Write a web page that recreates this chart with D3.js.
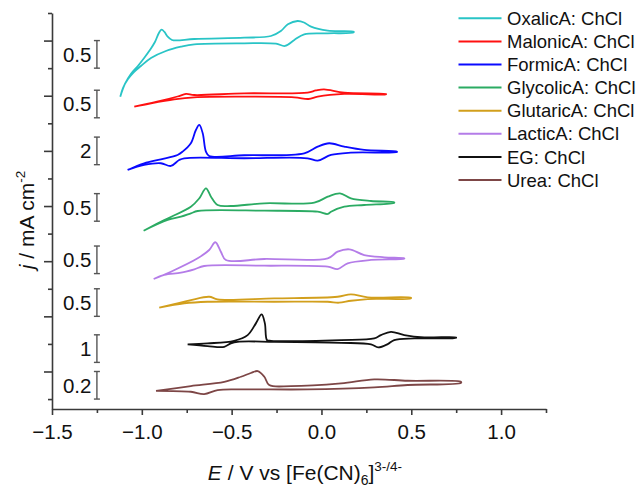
<!DOCTYPE html>
<html>
<head>
<meta charset="utf-8">
<script src="https://cdn.jsdelivr.net/npm/d3@7/dist/d3.min.js"></script>
<style>
  html, body { margin: 0; padding: 0; background: #fff; }
  svg { display: block; font-family: "Liberation Sans", Arial, sans-serif; }
</style>
</head>
<body>
<svg id="chart" width="638" height="488"></svg>
<script>
// Cyclic voltammograms of [Fe(CN)6]3-/4- in choline-chloride deep eutectic solvents.
// Each loop: [E (V), j (mA cm-2)], forward sweep then reverse sweep.
const oxalic = [
  [-1.120,-0.518],[-1.094,-0.287],[-1.061,-0.106],[-1.022,0.039],[-0.987,0.184],[-0.955,0.329],
  [-0.927,0.474],[-0.905,0.638],[-0.890,0.697],[-0.874,0.656],[-0.856,0.571],[-0.832,0.511],
  [-0.805,0.502],[-0.708,0.529],[-0.430,0.552],[-0.281,0.583],[-0.226,0.674],[-0.187,0.795],
  [-0.133,0.855],[-0.097,0.828],[-0.058,0.752],[0.035,0.679],[0.179,0.661],
  [0.179,0.647],[0.035,0.632],[-0.096,0.614],[-0.151,0.511],[-0.203,0.402],[-0.253,0.444],
  [-0.430,0.451],[-0.708,0.433],[-0.782,0.389],[-0.866,0.311],[-0.949,0.184],[-1.005,0.039],
  [-1.044,-0.070],[-1.077,-0.197],[-1.105,-0.360],[-1.120,-0.518]
];
const malonic = [
  [-1.042,0.201],[-0.921,0.287],[-0.801,0.386],[-0.754,0.432],[-0.708,0.413],[-0.430,0.444],
  [-0.077,0.455],[-0.031,0.495],[0.014,0.517],[0.127,0.455],[0.359,0.432],
  [0.359,0.426],[0.127,0.432],[-0.021,0.383],[-0.072,0.341],[-0.151,0.372],[-0.430,0.383],
  [-0.708,0.372],[-0.820,0.335],[-0.949,0.263],[-1.042,0.201]
];
const formic = [
  [-1.079,-0.384],[-0.987,0.102],[-0.894,0.392],[-0.801,0.704],[-0.773,0.943],[-0.727,1.552],
  [-0.699,2.517],[-0.680,2.880],[-0.661,2.278],[-0.643,0.943],[-0.625,0.631],[-0.430,0.682],
  [-0.096,0.827],[-0.021,1.306],[0.043,1.552],[0.127,1.306],[0.238,1.066],[0.420,0.943],
  [0.420,0.914],[0.164,0.870],[0.053,0.704],[-0.021,0.290],[-0.077,0.464],[-0.430,0.464],
  [-0.764,0.464],[-0.792,0.341],[-0.838,-0.094],[-0.894,0.102],[-0.987,-0.022],[-1.079,-0.384]
];
const glycolic = [
  [-0.990,-0.172],[-0.875,0.022],[-0.727,0.263],[-0.680,0.415],[-0.643,0.597],[-0.615,0.444],
  [-0.578,0.294],[-0.504,0.276],[-0.318,0.325],[-0.040,0.335],[0.035,0.444],[0.103,0.506],
  [0.164,0.415],[0.276,0.366],[0.405,0.343],
  [0.405,0.334],[0.238,0.294],[0.127,0.263],[0.053,0.172],[0.035,0.131],[-0.021,0.172],
  [-0.318,0.190],[-0.689,0.185],[-0.727,0.143],[-0.782,0.082],[-0.856,0.022],[-0.990,-0.172]
];
const lactic = [
  [-0.934,-0.098],[-0.838,0.034],[-0.689,0.277],[-0.625,0.428],[-0.591,0.568],[-0.560,0.397],
  [-0.532,0.247],[-0.318,0.265],[0.035,0.277],[0.090,0.397],[0.155,0.441],[0.238,0.337],
  [0.350,0.296],[0.461,0.277],
  [0.461,0.270],[0.276,0.247],[0.146,0.187],[0.090,0.083],[0.035,0.125],[-0.318,0.143],
  [-0.653,0.138],[-0.708,0.078],[-0.782,0.016],[-0.875,-0.025],[-0.934,-0.098]
];
const glutaric = [
  [-0.903,0.156],[-0.727,0.296],[-0.625,0.355],[-0.578,0.308],[-0.263,0.326],[0.090,0.355],
  [0.164,0.399],[0.257,0.345],[0.498,0.337],
  [0.498,0.326],[0.257,0.314],[0.164,0.283],[0.097,0.247],[0.035,0.265],[-0.263,0.265],
  [-0.634,0.265],[-0.764,0.236],[-0.903,0.156]
];
const eg = [
  [-0.745,0.653],[-0.634,0.689],[-0.486,0.783],[-0.411,0.990],[-0.365,1.415],[-0.333,1.741],
  [-0.315,1.415],[-0.303,0.809],[-0.281,0.783],[0.109,0.809],[0.294,0.870],[0.331,0.990],
  [0.387,1.110],[0.461,0.990],[0.572,0.907],[0.749,0.907],
  [0.749,0.889],[0.517,0.870],[0.405,0.809],[0.369,0.664],[0.316,0.544],[0.276,0.653],
  [0.109,0.711],[-0.263,0.747],[-0.467,0.747],[-0.504,0.689],[-0.541,0.566],[-0.634,0.591],
  [-0.745,0.653]
];
const urea = [
  [-0.921,0.060],[-0.727,0.094],[-0.541,0.125],[-0.448,0.162],[-0.393,0.189],[-0.355,0.203],
  [-0.318,0.162],[-0.291,0.102],[-0.170,0.094],[0.109,0.114],[0.294,0.143],[0.480,0.133],
  [0.777,0.125],
  [0.777,0.118],[0.480,0.102],[0.294,0.085],[-0.077,0.070],[-0.448,0.070],[-0.578,0.065],
  [-0.653,0.036],[-0.727,0.053],[-0.921,0.060]
];

const seriesNames = ["OxalicA: ChCl","MalonicA: ChCl","FormicA: ChCl","GlycolicA: ChCl",
                     "GlutaricA: ChCl","LacticA: ChCl","EG: ChCl","Urea: ChCl"];
// current scale bars (mA cm-2), one per trace
const scaleBarValues = [0.5, 0.5, 2, 0.5, 0.5, 0.5, 1, 0.2];
const scaleBarLabels = ["0.5","0.5","2","0.5","0.5","0.5","1","0.2"];
const xTicks = [-1.5, -1.0, -0.5, 0.0, 0.5, 1.0];
const xTickLabels = ["\u22121.5","\u22121.0","\u22120.5","0.0","0.5","1.0"];

// legend order
const traces = [
  {name: seriesNames[0], data: oxalic,   bar: scaleBarValues[0], label: scaleBarLabels[0]},
  {name: seriesNames[1], data: malonic,  bar: scaleBarValues[1], label: scaleBarLabels[1]},
  {name: seriesNames[2], data: formic,   bar: scaleBarValues[2], label: scaleBarLabels[2]},
  {name: seriesNames[3], data: glycolic, bar: scaleBarValues[3], label: scaleBarLabels[3]},
  {name: seriesNames[4], data: glutaric, bar: scaleBarValues[4], label: scaleBarLabels[4]},
  {name: seriesNames[5], data: lactic,   bar: scaleBarValues[5], label: scaleBarLabels[5]},
  {name: seriesNames[6], data: eg,       bar: scaleBarValues[6], label: scaleBarLabels[6]},
  {name: seriesNames[7], data: urea,     bar: scaleBarValues[7], label: scaleBarLabels[7]}
];
// vertical stacking offsets in axis units (one unit = one scale bar)
const stackOffsets = [12.0, 10.2, 8.5, 6.45, 3.0, 4.55, 1.33, 0.0];
const colors = ["#29c4c6", "#ff1010", "#0a0aff", "#2bab63", "#d29f1c", "#b47ce8", "#111111", "#7d4646"];

const svg = d3.select("#chart");

const x = d3.scaleLinear().domain([-1.5, 1.25]).range([52, 546]);
const y = d3.scaleLinear().domain([-0.36, 14]).range([409, 13]);

const axisColor = "#3a3a3a";

// ---- axes ----
const gx = svg.append("g").attr("transform", `translate(0,${y(-0.36)})`);
gx.call(d3.axisBottom(x).tickValues(xTicks).tickSize(6).tickSizeOuter(0)
  .tickFormat((d, i) => xTickLabels[i]));
const gxMinor = svg.append("g").attr("transform", `translate(0,${y(-0.36)})`);
gxMinor.call(d3.axisBottom(x).tickValues([-1.25, -0.75, -0.25, 0.25, 0.75, 1.25])
  .tickSize(4).tickSizeOuter(0).tickFormat(""));
gxMinor.select(".domain").remove();

const gy = svg.append("g").attr("transform", `translate(${x(-1.5)},0)`);
gy.call(d3.axisLeft(y).tickValues([1, 3, 5, 7, 9, 11, 13]).tickSize(8).tickSizeOuter(0).tickFormat(""));
const gyMinor = svg.append("g").attr("transform", `translate(${x(-1.5)},0)`);
gyMinor.call(d3.axisLeft(y).tickValues([0, 2, 4, 6, 8, 10, 12, 14]).tickSize(4).tickSizeOuter(0).tickFormat(""));
gyMinor.select(".domain").remove();

svg.selectAll(".domain, .tick line")
  .attr("stroke", axisColor).attr("stroke-width", 1.6);
gx.selectAll(".tick text")
  .attr("fill", "#111").attr("font-size", "20.5px")
  .attr("font-family", "Liberation Sans, Arial, sans-serif")
  .attr("y", 15).attr("dy", "0.71em");

// ---- axis titles ----
const xt = svg.append("text")
  .attr("x", 305).attr("y", 480)
  .attr("text-anchor", "middle").attr("font-size", "21px").attr("fill", "#111");
xt.append("tspan").attr("font-style", "italic").text("E");
xt.append("tspan").text(" / V vs [Fe(CN)");
xt.append("tspan").attr("font-size", "14px").attr("dy", 5).text("6");
xt.append("tspan").attr("dy", -5).text("]");
xt.append("tspan").attr("font-size", "13.5px").attr("dy", -9).text("3-/4-");

const yt = svg.append("text")
  .attr("transform", "translate(34,220) rotate(-90)")
  .attr("text-anchor", "middle").attr("font-size", "21px").attr("fill", "#111");
yt.append("tspan").attr("font-style", "italic").text("j");
yt.append("tspan").text(" / mA cm");
yt.append("tspan").attr("font-size", "13.5px").attr("dy", -9).text("-2");

// ---- scale bars: each spans its stated current on its own trace's gain ----
const barE = -1.25;
const bars = svg.append("g");
traces.forEach((t, i) => {
  const off = stackOffsets[i];
  const gain = 1 / t.bar;              // axis units per mA cm-2
  const y0 = y(off);
  const y1 = y(off + scaleBarValues[i] * gain);
  const bx = x(barE);
  bars.append("line").attr("x1", bx).attr("x2", bx).attr("y1", y0).attr("y2", y1)
    .attr("stroke", "#555").attr("stroke-width", 1.4);
  [y0, y1].forEach(yy => bars.append("line")
    .attr("x1", bx - 3).attr("x2", bx + 3).attr("y1", yy).attr("y2", yy)
    .attr("stroke", "#555").attr("stroke-width", 1.4));
  bars.append("text")
    .attr("x", bx - 5.5).attr("y", (y0 + y1) / 2)
    .attr("dy", "0.36em").attr("text-anchor", "end")
    .attr("font-size", "20.5px").attr("fill", "#111")
    .text(t.label);
});

// ---- voltammograms ----
traces.forEach((t, i) => {
  const off = stackOffsets[i];
  const gain = 1 / t.bar;
  const line = d3.line()
    .x(d => x(d[0]))
    .y(d => y(off + d[1] * gain))
    .curve(d3.curveCatmullRom.alpha(0.5));
  svg.append("path")
    .datum(t.data)
    .attr("d", line)
    .attr("fill", "none")
    .attr("stroke", colors[i])
    .attr("stroke-width", 1.8)
    .attr("stroke-linejoin", "round");
});

// ---- legend ----
const legend = svg.append("g");
traces.forEach((t, i) => {
  const ly = 18.3 + i * 23.1;
  legend.append("line")
    .attr("x1", 458.5).attr("x2", 501.5).attr("y1", ly).attr("y2", ly)
    .attr("stroke", colors[i]).attr("stroke-width", 2);
  legend.append("text")
    .attr("x", 507).attr("y", ly).attr("dy", "0.36em")
    .attr("font-size", "18.5px").attr("fill", "#111")
    .text(t.name);
});
</script>
</body>
</html>
